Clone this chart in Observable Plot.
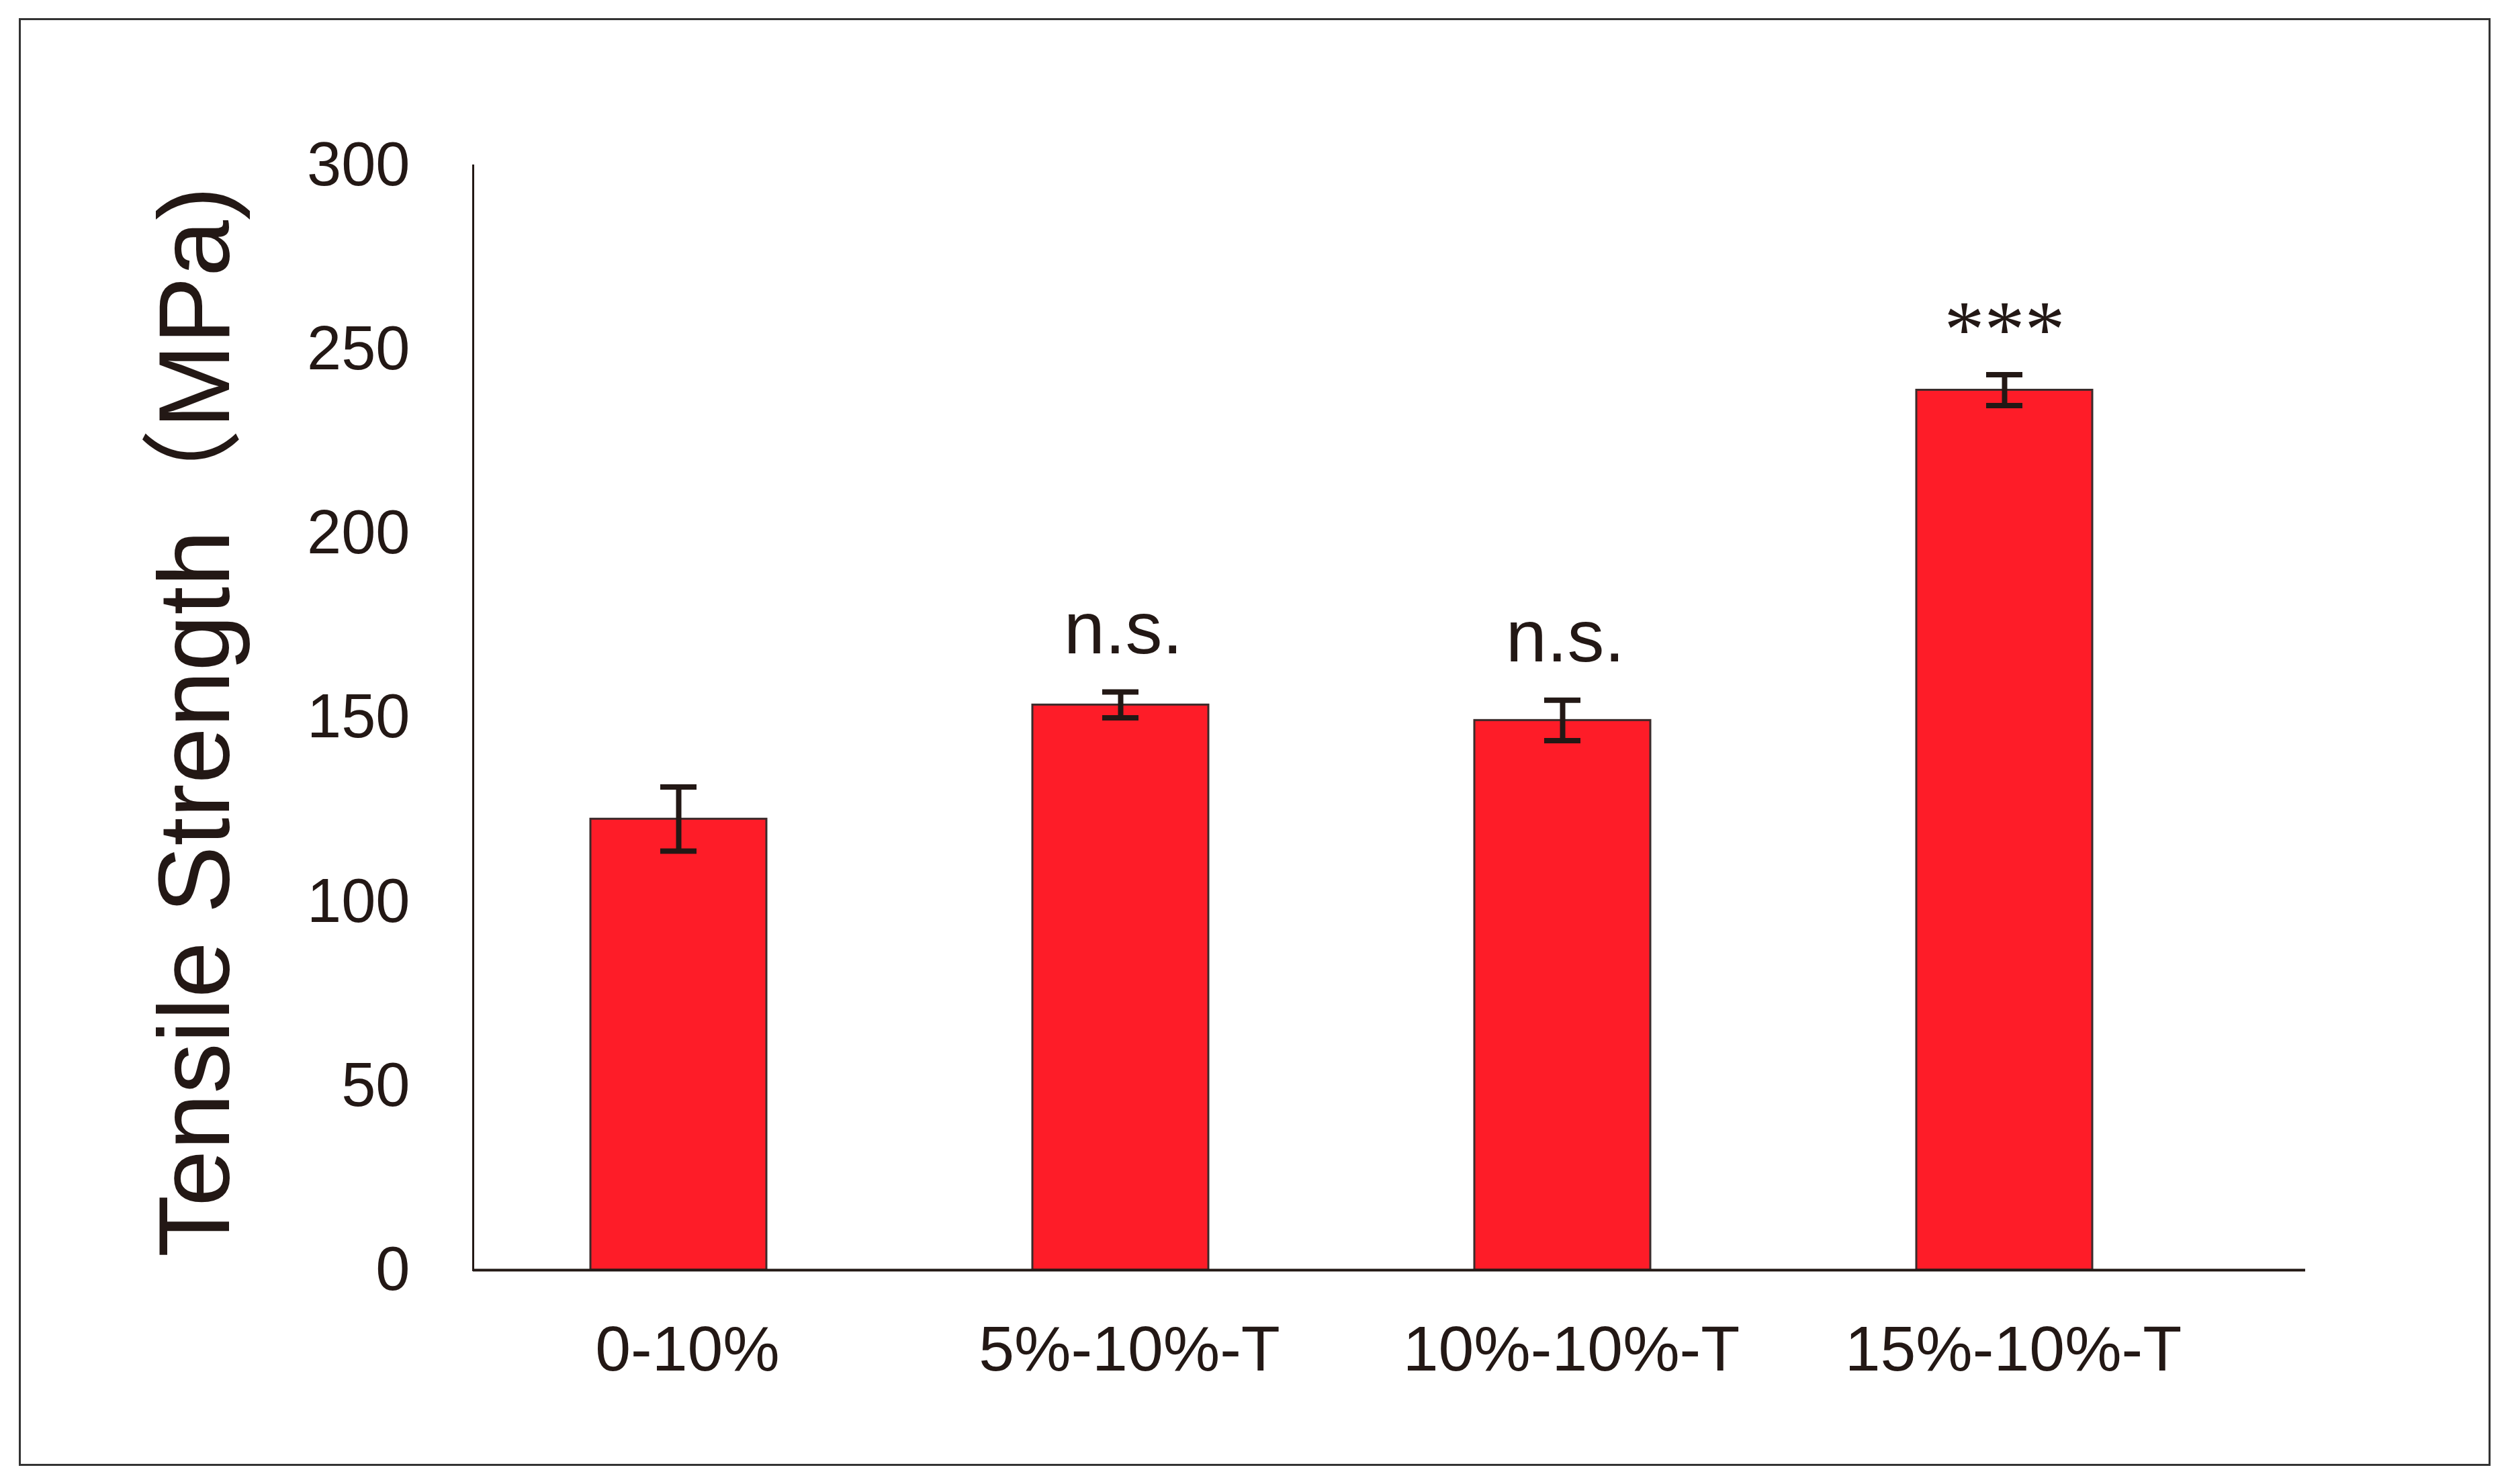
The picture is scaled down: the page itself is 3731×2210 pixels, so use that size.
<!DOCTYPE html>
<html>
<head>
<meta charset="utf-8">
<script src="https://cdn.jsdelivr.net/npm/d3@7"></script>
<script src="https://cdn.jsdelivr.net/npm/@observablehq/plot@0.6"></script>
<style>
  html, body { margin: 0; padding: 0; background: #fff; }
  #wrap { position: relative; width: 3731px; height: 2210px; background: #fff; }
  #border { position: absolute; left: 28px; top: 27px; width: 3680px; height: 2156px;
            border: 3px solid #333; box-sizing: border-box; pointer-events: none; }
  #chart { position: absolute; left: 0; top: 0; }
</style>
</head>
<body>
<div id="wrap">
  <div id="chart"></div>
  <div id="border"></div>
</div>
<script>
const categories = ["0-10%", "5%-10%-T", "10%-10%-T", "15%-10%-T"];
const means = [122.5, 153.5, 149.3, 239.0];
const errors = [8.7, 3.5, 5.5, 4.2];
const sigLabels = ["", "n.s.", "n.s.", "***"];
const yTicks = [0, 50, 100, 150, 200, 250, 300];
const yTitle = "Tensile Strength（MPa)";

const data = categories.map((c, i) => ({cat: c, mean: means[i], err: errors[i], sig: sigLabels[i]}));

const ink = "#231815";
const sans = "'Liberation Sans', Arial, 'Noto Sans CJK SC', sans-serif";
const serif = "'Liberation Serif', 'Times New Roman', serif";

const chart = Plot.plot({
  width: 3731,
  height: 2210,
  marginTop: 246,
  marginBottom: 319,
  marginLeft: 704,
  marginRight: 299,
  style: {fontFamily: sans, color: ink, background: "transparent"},
  x: {domain: categories, paddingInner: 0.602, paddingOuter: 0.373, align: 0.356, label: null},
  y: {domain: [0, 300], label: null},
  marks: [
    Plot.barY(data, {x: "cat", y: "mean", fill: "#FE1C28", stroke: "#3b2b2b", strokeWidth: 3}),
    Plot.ruleX(data, {x: "cat", y1: d => d.mean - d.err, y2: d => d.mean + d.err, stroke: ink, strokeWidth: 8}),
    Plot.tickY(data, {x: "cat", y: d => d.mean + d.err, stroke: ink, strokeWidth: 8, inset: 104}),
    Plot.tickY(data, {x: "cat", y: d => d.mean - d.err, stroke: ink, strokeWidth: 8, inset: 104}),
    Plot.text(data.filter(d => d.sig === "n.s."), {x: "cat", y: d => d.mean + d.err, text: "sig",
      lineAnchor: "bottom", dy: -58, dx: 4, fontSize: 110, fill: ink, fontFamily: sans,
      letterSpacing: "0.03em"}),
    Plot.text(data.filter(d => d.sig === "***"), {x: "cat", y: d => d.mean + d.err, text: "sig",
      lineAnchor: "bottom", dy: -27, fontSize: 120, fill: ink, fontFamily: serif}),
    Plot.ruleY([0], {stroke: ink, strokeWidth: 4}),
    Plot.frame({anchor: "left", stroke: ink, strokeWidth: 3}),
    Plot.axisY({ticks: yTicks, tickSize: 0, tickPadding: 94, fontSize: 92, label: null, fill: ink}),
    Plot.axisX({tickSize: 0, tickPadding: 82, fontSize: 95, label: null, dx: 13, fill: ink}),
    Plot.text([yTitle], {frameAnchor: "left", rotate: -90, lineAnchor: "bottom", textAnchor: "middle",
      dx: -364, dy: 6, fontSize: 151, fill: ink, fontFamily: sans})
  ]
});
document.getElementById("chart").appendChild(chart);
</script>
</body>
</html>
